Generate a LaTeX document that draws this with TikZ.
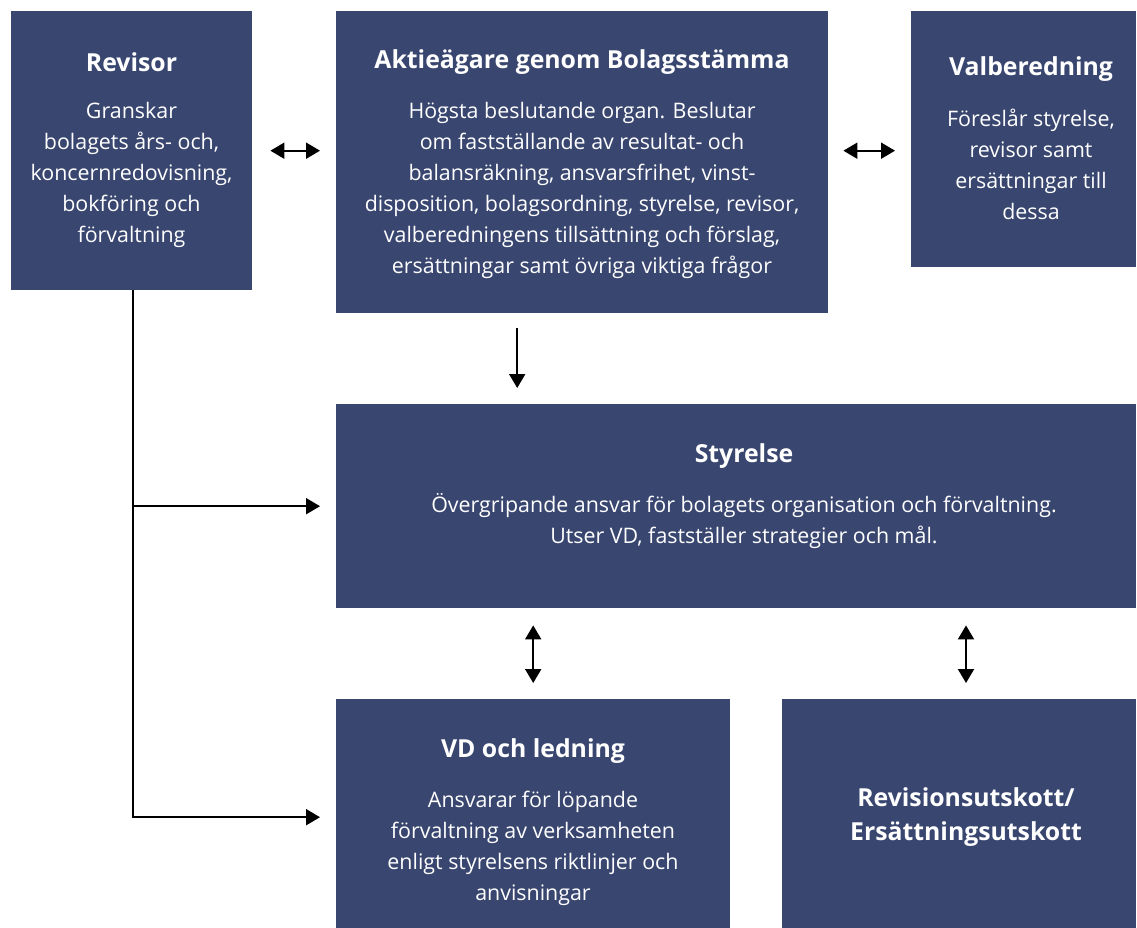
\documentclass[tikz,border=0pt]{standalone}
\usepackage{fontspec}
\setmainfont{Open Sans}
\usetikzlibrary{arrows.meta,calc}
\definecolor{boxblue}{RGB}{57,70,112}
\begin{document}
\begin{tikzpicture}[x=1pt,y=-1pt]

    \tikzset{
      box/.style={
        fill=boxblue,
        inner sep=0pt,
        anchor=north west,
      },
      title/.style={
        text=white,
        font=\bfseries\fontsize{24.8}{34}\selectfont,
        align=center,
        inner sep=0pt,
      },
      body/.style={
        text=white,
        font=\fontsize{21.4}{31}\selectfont,
        align=center,
        inner sep=0pt,
      },
      link/.style={
        line width=2pt,
        -{Triangle[length=14pt,width=16pt]},
      },
      twoway/.style={
        line width=2pt,
        {Triangle[length=14pt,width=16pt]}-{Triangle[length=14pt,width=16pt]},
      },
    }
    \useasboundingbox (0,0) rectangle (1137,928);
	\node[box, minimum width=241, minimum height=279] (rev) at (11,11) {};
	\node[box, minimum width=492, minimum height=302] (akt) at (336,11) {};
	\node[box, minimum width=225, minimum height=256] (valb) at (911,11) {};
	\node[box, minimum width=800, minimum height=204] (sty) at (336,404) {};
	\node[box, minimum width=394, minimum height=229] (vd) at (336,699) {};
	\node[box, minimum width=354, minimum height=229] (rk) at (782,699) {};

	\node[title] (revT) at (131.5,62) {Revisor};
	\node[body] (revB) at (131.5,175) {Granskar\\bolagets års- och,\\koncernredovisning,\\bokföring och\\förvaltning};
	\node[title] (aktT) at (582,62) {Aktieägare genom Bolagsstämma};
	\node[body] (aktB) at (582,190) {Högsta beslutande organ. Beslutar\\om fastställande av resultat- och\\balansräkning, ansvarsfrihet, vinst-\\disposition, bolagsordning, styrelse, revisor,\\valberedningens tillsättning och förslag,\\ersättningar samt övriga viktiga frågor};
	\node[title] (valbT) at (1031,69) {Valberedning};
	\node[body] (valbB) at (1031,164) {Föreslår styrelse,\\revisor samt\\ersättningar till\\dessa};
	\node[title] (styT) at (744,456) {Styrelse};
	\node[body] (styB) at (744,521) {Övergripande ansvar för bolagets organisation och förvaltning.\\Utser VD, fastställer strategier och mål.};
	\node[title] (vdT) at (533,751) {VD och ledning};
	\node[body] (vdB) at (533,848) {Ansvarar för löpande\\förvaltning av verksamheten\\enligt styrelsens riktlinjer och\\anvisningar};
	\node[title] (rkT) at (966,817) {Revisionsutskott/\\Ersättningsutskott};

	\draw[twoway, shorten <=18, shorten >=16] (rev.east) -- (rev.east -| akt.west);
	\draw[twoway, shorten <=15, shorten >=16] (akt.east |- rev.east) -- (valb.west |- rev.east);
	\draw[link, shorten <=15, shorten >=16] ([xshift=-65]akt.south) -- ([xshift=-65]akt.south |- sty.north);
	\draw[twoway, shorten <=17, shorten >=16] (sty.south -| vd.north) -- (vd.north);
	\draw[twoway, shorten <=17, shorten >=16] (sty.south -| 966,0) -- (rk.north -| 966,0);
	\draw[link, shorten >=16] ([xshift=1.5]rev.south) |- ([yshift=-3.5]vd.west);
	\draw[link, shorten >=16] ([xshift=1.5]rev.south |- sty.west) -- (sty.west);

\end{tikzpicture}
\end{document}
